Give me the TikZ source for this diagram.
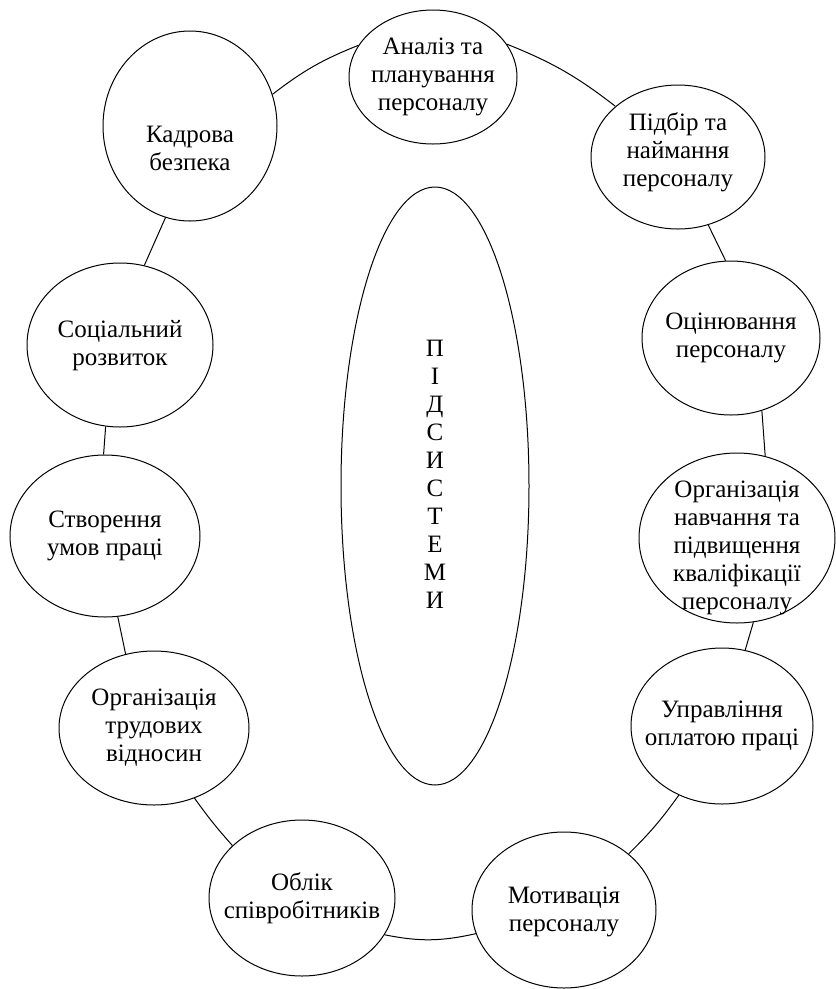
\documentclass[tikz,border=0pt]{standalone}
\usepackage{fontspec}
\setmainfont{Liberation Serif}
\usetikzlibrary{shapes.geometric}

\begin{document}
\begin{tikzpicture}[
    x=1pt, y=-1pt,
    sub/.style 2 args={ellipse, draw, fill=white, line width=1pt, inner sep=0pt, minimum width=#1pt, minimum height=#2pt},
    txt/.style={align=center, inner sep=0pt, font=\fontsize{25}{28}\selectfont},
    link/.style={line width=1pt}
]
    \useasboundingbox (0,0) rectangle (836,989);

    % centre
    \node[sub={188}{598}] (core) at (435,486) {};
    \node[txt] (core-t) at (435,474) {П\\І\\Д\\С\\И\\С\\Т\\Е\\М\\И};

    % subsystems round the ring
    \node[sub={168}{134}] (analiz) at (433,77) {};
    \node[txt] (analiz-t) at (analiz) {Аналіз та\\планування\\персоналу};

    \node[sub={174}{144}] (pidbir) at (678,157) {};
    \node[txt] (pidbir-t) at (678,152) {Підбір та\\наймання\\персоналу};

    \node[sub={178}{154}] (otsin) at (731,338) {};
    \node[txt] (otsin-t) at (otsin) {Оцінювання\\персоналу};

    \node[sub={196}{170}] (navch) at (737,538) {};
    \node[txt] (navch-t) at (737,548) {Організація\\навчання та\\підвищення\\кваліфікації\\персоналу};

    \node[sub={182}{156}] (oplata) at (722,726) {};
    \node[txt] (oplata-t) at (oplata) {Управління\\оплатою праці};

    \node[sub={184}{156}] (motyv) at (564,910) {};
    \node[txt] (motyv-t) at (564,912) {Мотивація\\персоналу};

    \node[sub={186}{156}] (oblik) at (302,898) {};
    \node[txt] (oblik-t) at (oblik) {Облік\\співробітників};

    \node[sub={190}{154}] (trud) at (154,728) {};
    \node[txt] (trud-t) at (trud) {Організація\\трудових\\відносин};

    \node[sub={190}{162}] (umovy) at (105,536) {};
    \node[txt] (umovy-t) at (umovy) {Створення\\умов праці};

    \node[sub={186}{164}] (sotsial) at (120,345) {};
    \node[txt] (sotsial-t) at (120,346) {Соціальний\\розвиток};

    \node[sub={174}{190}] (bezpeka) at (190,126) {};
    \node[txt] (bezpeka-t) at (190,148) {Кадрова\\безпека};

    % ring
    \draw[link] (bezpeka.21) to[bend left=8] (analiz.157);
    \draw[link] (analiz.24) to[bend left=8] (pidbir.141);
    \draw[link] (pidbir.294) -- (otsin.94);
    \draw[link] (otsin.293) -- (navch.71);
    \draw[link] (navch.281) -- (oplata.73);
    \draw[link] (oplata.238) to[bend left=5] (motyv.41);
    \draw[link] (motyv.195) to[bend left=12] (oblik.336);
    \draw[link] (oblik.143) to[bend left=3] (trud.300);
    \draw[link] (trud.111) -- (umovy.279);
    \draw[link] (umovy.91) -- (sotsial.260);
    \draw[link] (sotsial.73) -- (bezpeka.255);
\end{tikzpicture}
\end{document}
